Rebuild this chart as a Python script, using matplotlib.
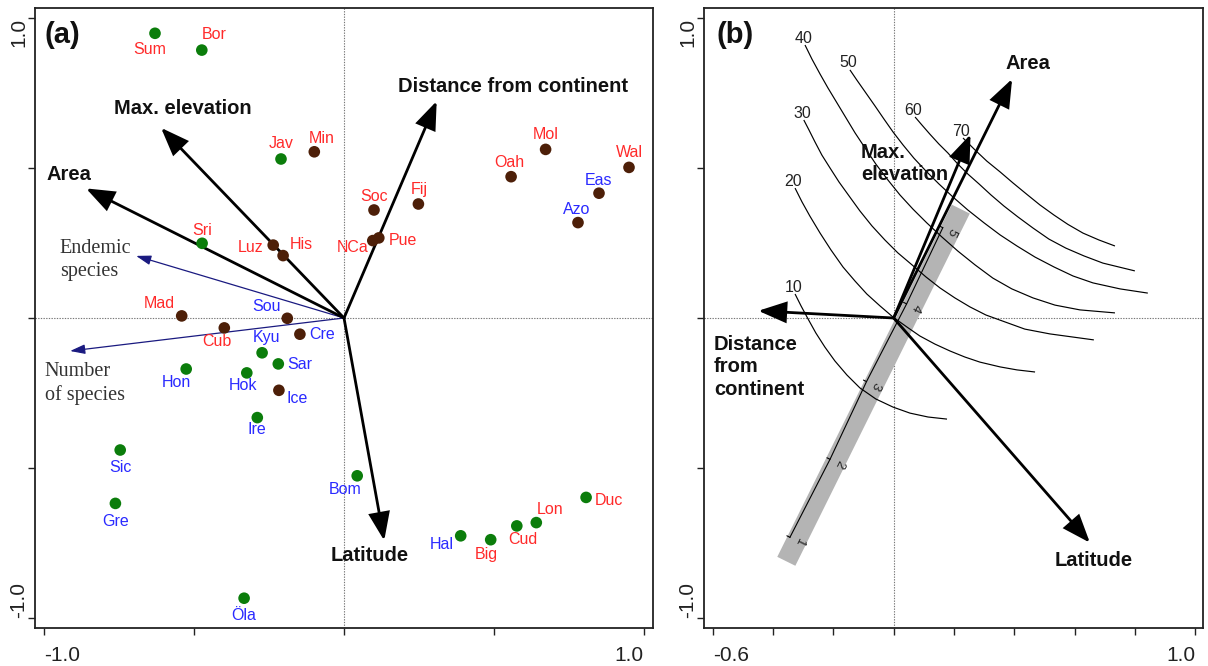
import matplotlib
matplotlib.use("Agg")
import matplotlib.pyplot as plt
import numpy as np

plt.rcParams['font.family'] = ['Liberation Sans', 'DejaVu Sans']

# ---------------- Panel (a) data ----------------
islands = ['Sum', 'Bor', 'Jav', 'Min', 'Sri', 'Luz', 'His', 'Soc', 'Fij', 'NCa',
           'Pue', 'Oah', 'Mol', 'Wal', 'Eas', 'Azo', 'Mad', 'Cub', 'Sou', 'Cre',
           'Kyu', 'Sar', 'Hon', 'Hok', 'Ice', 'Ire', 'Sic', 'Gre', 'Bom', 'Öla',
           'Hal', 'Big', 'Cud', 'Lon', 'Duc']
axis1 = [-0.630, -0.474, -0.210, -0.099, -0.473, -0.236, -0.203, 0.100, 0.248, 0.096,
         0.116, 0.557, 0.672, 0.950, 0.850, 0.780, -0.541, -0.399, -0.189, -0.147,
         -0.273, -0.219, -0.526, -0.324, -0.217, -0.289, -0.746, -0.762, 0.044, -0.333,
         0.389, 0.489, 0.576, 0.641, 0.807]
axis2 = [0.949, 0.893, 0.530, 0.554, 0.249, 0.243, 0.208, 0.360, 0.380, 0.258,
         0.267, 0.471, 0.562, 0.502, 0.416, 0.318, 0.007, -0.033, -0.001, -0.054,
         -0.116, -0.153, -0.170, -0.183, -0.241, -0.332, -0.440, -0.618, -0.526, -0.934,
         -0.726, -0.739, -0.693, -0.682, -0.598]
# island origin (marker colour): C = continental, O = oceanic
origin = ['C', 'C', 'C', 'O', 'C', 'O', 'O', 'O', 'O', 'O',
          'O', 'O', 'O', 'O', 'O', 'O', 'O', 'O', 'O', 'O',
          'C', 'C', 'C', 'C', 'O', 'C', 'C', 'C', 'C', 'C',
          'C', 'C', 'C', 'C', 'C']
# climate (label colour): T = tropical, M = temperate
climate = ['T', 'T', 'T', 'T', 'T', 'T', 'T', 'T', 'T', 'T',
           'T', 'T', 'T', 'T', 'M', 'M', 'T', 'T', 'M', 'M',
           'M', 'M', 'M', 'M', 'M', 'M', 'M', 'M', 'M', 'M',
           'M', 'T', 'T', 'T', 'T']

env_names_a = ['Max. elevation', 'Area', 'Distance from continent', 'Latitude']
env_x_a = [-0.610, -0.860, 0.309, 0.134]
env_y_a = [0.634, 0.432, 0.723, -0.742]

spp_names_a = ['Endemic\nspecies', 'Number\nof species']
spp_x_a = [-0.693, -0.913]
spp_y_a = [0.207, -0.110]

# ---------------- Panel (b) data ----------------
env_names_b = ['Area', 'Max.\nelevation', 'Distance\nfrom\ncontinent', 'Latitude']
env_x_b = [0.393, 0.255, -0.449, 0.651]
env_y_b = [0.797, 0.612, 0.024, -0.749]

contour_levels = [10, 20, 30, 40, 50, 60, 70]
c10_x = [-0.327, -0.307, -0.284, -0.258, -0.228, -0.195, -0.155, -0.112, -0.059,
         -0.002, 0.054, 0.114, 0.177]
c10_y = [0.080, 0.040, -0.003, -0.050, -0.097, -0.143, -0.190, -0.233, -0.270,
         -0.297, -0.317, -0.330, -0.337]
c20_x = [-0.327, -0.304, -0.278, -0.244, -0.208, -0.168, -0.128, -0.089, -0.045,
         -0.002, 0.044, 0.087, 0.137, 0.187, 0.236, 0.286, 0.353, 0.409, 0.469]
c20_y = [0.433, 0.387, 0.340, 0.283, 0.227, 0.170, 0.123, 0.080, 0.040,
         0.003, -0.030, -0.060, -0.087, -0.110, -0.130, -0.147, -0.163, -0.173, -0.180]
c30_x = [-0.298, -0.281, -0.261, -0.238, -0.211, -0.181, -0.148, -0.112, -0.072,
         -0.029, 0.014, 0.061, 0.107, 0.154, 0.203, 0.253, 0.306, 0.369, 0.435,
         0.518, 0.591, 0.664]
c30_y = [0.660, 0.627, 0.587, 0.543, 0.500, 0.453, 0.407, 0.357, 0.307,
         0.260, 0.217, 0.177, 0.137, 0.100, 0.067, 0.037, 0.010, -0.013, -0.037,
         -0.053, -0.063, -0.073]
c40_x = [-0.294, -0.271, -0.244, -0.218, -0.188, -0.158, -0.128, -0.095, -0.059,
         -0.019, 0.021, 0.064, 0.110, 0.160, 0.213, 0.270, 0.329, 0.392, 0.462,
         0.535, 0.618, 0.734]
c40_y = [0.910, 0.863, 0.813, 0.767, 0.717, 0.667, 0.617, 0.567, 0.513,
         0.460, 0.410, 0.363, 0.317, 0.270, 0.223, 0.177, 0.133, 0.097, 0.067,
         0.043, 0.027, 0.017]
c50_x = [-0.145, -0.122, -0.092, -0.062, -0.032, -0.002, 0.031, 0.067, 0.107,
         0.150, 0.197, 0.246, 0.300, 0.353, 0.409, 0.469, 0.532, 0.595, 0.661,
         0.751, 0.843]
c50_y = [0.827, 0.793, 0.750, 0.707, 0.663, 0.620, 0.577, 0.533, 0.490,
         0.447, 0.403, 0.360, 0.317, 0.277, 0.240, 0.203, 0.170, 0.140, 0.117,
         0.097, 0.083]
c60_x = [0.071, 0.094, 0.120, 0.150, 0.180, 0.213, 0.246, 0.283, 0.323,
         0.366, 0.412, 0.462, 0.515, 0.571, 0.631, 0.694, 0.800]
c60_y = [0.670, 0.643, 0.613, 0.580, 0.550, 0.513, 0.480, 0.447, 0.410,
         0.373, 0.337, 0.300, 0.263, 0.233, 0.207, 0.183, 0.157]
c70_x = [0.230, 0.270, 0.309, 0.353, 0.396, 0.442, 0.485, 0.532, 0.578,
         0.628, 0.681, 0.734]
c70_y = [0.600, 0.560, 0.523, 0.487, 0.450, 0.412, 0.377, 0.343, 0.312,
         0.283, 0.260, 0.240]
contours_x = [c10_x, c20_x, c30_x, c40_x, c50_x, c60_x, c70_x]
contours_y = [c10_y, c20_y, c30_y, c40_y, c50_y, c60_y, c70_y]

band_x = [-0.356, 0.2226]
band_y = [-0.811, 0.363]
scale_values = [1, 2, 3, 4, 5]
scale_x = [-0.344, -0.211, -0.090, 0.043, 0.163]
scale_y = [-0.731, -0.471, -0.212, 0.047, 0.301]

# ---------------- styling / layout ----------------
GREEN = '#0b7d0b'
BROWN = '#4d1f08'
RED = '#ff2a2a'
BLUE = '#2a2aff'
NAVY = '#1a1a80'
marker_col = {'C': GREEN, 'O': BROWN}
label_col = {'T': RED, 'M': BLUE}

# label offsets in pixels (dx right, dy down)
label_off = {
    'Sum': (-5, 16), 'Bor': (12, -16), 'Jav': (0, -15), 'Min': (7, -13), 'Sri': (0, -13),
    'Luz': (-23, 2), 'His': (18, -11), 'Soc': (0, -13), 'Fij': (1, -14), 'NCa': (-20, 7),
    'Pue': (24, 3), 'Oah': (-2, -14), 'Mol': (0, -15), 'Wal': (0, -15), 'Eas': (-1, -13),
    'Azo': (-1, -13), 'Mad': (-22, -12), 'Cub': (-7, 14), 'Sou': (-21, -12), 'Cre': (22, 0),
    'Kyu': (4, -15), 'Sar': (21, 1), 'Hon': (-10, 13), 'Hok': (-4, 13), 'Ice': (18, 8),
    'Ire': (0, 12), 'Sic': (0, 17), 'Gre': (0, 18), 'Bom': (-12, 14), 'Öla': (0, 17),
    'Hal': (-19, 9), 'Big': (-4, 15), 'Cud': (6, 14), 'Lon': (14, -13), 'Duc': (23, 3)}
PX = 0.72  # points per pixel at 100 dpi

fig = plt.figure(figsize=(12.08, 6.66), dpi=100)
axa = fig.add_axes([35 / 1208, 38 / 666, 618 / 1208, 620 / 666])
axb = fig.add_axes([704 / 1208, 38 / 666, 499 / 1208, 620 / 666])

axa.set_xlim(-1.03, 1.03)
axa.set_ylim(-1.0333, 1.0333)
axb.set_xlim(-0.629, 1.026)
axb.set_ylim(-1.0333, 1.0333)


def big_arrow(ax, x, y):
    ax.annotate('', xy=(x, y), xytext=(0, 0),
                arrowprops=dict(arrowstyle='-|>,head_length=1.0,head_width=0.38',
                                mutation_scale=17, lw=2.0, color='black',
                                shrinkA=0, shrinkB=0, joinstyle='miter'),
                zorder=4)


def thin_arrow(ax, x, y):
    ax.annotate('', xy=(x, y), xytext=(0, 0),
                arrowprops=dict(arrowstyle='-|>,head_length=1.0,head_width=0.32',
                                mutation_scale=9, lw=0.9, color=NAVY,
                                shrinkA=0, shrinkB=0),
                zorder=4)


for ax in (axa, axb):
    ax.axhline(0, color='#777777', lw=0.8, ls=(0, (1.2, 1.2)), zorder=0)
    ax.axvline(0, color='#777777', lw=0.8, ls=(0, (1.2, 1.2)), zorder=0)
    for s in ax.spines.values():
        s.set_linewidth(1.3)
        s.set_color('#222222')
    ax.tick_params(direction='out', length=5, width=1.0, colors='#222222',
                   labelsize=15)
    ax.tick_params(axis='y', labelrotation=90, pad=0)
    ax.tick_params(axis='x', pad=8)

# ---- panel (a) ----
for name, x, y in zip(spp_names_a, spp_x_a, spp_y_a):
    thin_arrow(axa, x, y)
for name, x, y in zip(env_names_a, env_x_a, env_y_a):
    big_arrow(axa, x, y)

for i, name in enumerate(islands):
    axa.scatter(axis1[i], axis2[i], s=70, color=marker_col[origin[i]],
                edgecolors='none', zorder=5)
    dx, dy = label_off[name]
    axa.annotate(name, xy=(axis1[i], axis2[i]), xytext=(dx * PX, -dy * PX),
                 textcoords='offset points', ha='center', va='center',
                 fontsize=11.5, color=label_col[climate[i]], zorder=6)

bold = dict(fontsize=14.5, fontweight='bold', color='#111111')
axa.text(-0.536, 0.699, 'Max. elevation', ha='center', va='center', **bold)
axa.text(-0.917, 0.477, 'Area', ha='center', va='center', **bold)
axa.text(0.564, 0.771, 'Distance from continent', ha='center', va='center', **bold)
axa.text(0.085, -0.793, 'Latitude', ha='center', va='center', **bold)
serif = dict(family=['Liberation Serif', 'DejaVu Serif'], fontsize=14.5,
             color='#333333', linespacing=1.25)
axa.text(-0.947, 0.193, spp_names_a[0], ha='left', va='center', **serif)
axa.text(-0.997, -0.218, spp_names_a[1], ha='left', va='center', **serif)
axa.text(-0.997, 0.943, '(a)', ha='left', va='center', fontsize=21,
         fontweight='bold', color='#111111')

axa.set_xticks([-1, -0.5, 0, 0.5, 1])
axa.set_xticklabels(['-1.0', '', '', '', '1.0'])
axa.set_yticks([-1, -0.5, 0, 0.5, 1])
axa.set_yticklabels(['-1.0', '', '', '', '1.0'])

# ---- panel (b) ----
axb.plot(band_x, band_y, color='#b4b4b4', lw=14.5, solid_capstyle='butt', zorder=1)
axb.plot(scale_x, scale_y, color='black', lw=0.8, zorder=2)
for v, x, y in zip(scale_values, scale_x, scale_y):
    axb.annotate('', xy=(x, y), xytext=(-2.2, 1.1), textcoords='offset points',
                 arrowprops=dict(arrowstyle='-', lw=0.8, color='black',
                                 shrinkA=0, shrinkB=0), zorder=2)
    axb.annotate(str(v), xy=(x, y), xytext=(6.5, -3.0), textcoords='offset points',
                 ha='center', va='center', fontsize=9.5, rotation=-116.5,
                 rotation_mode='anchor', color='#222222', zorder=2)

for lev, cx, cy in zip(contour_levels, contours_x, contours_y):
    axb.plot(cx, cy, color='black', lw=0.85, zorder=2,
             solid_joinstyle='round', solid_capstyle='butt')
    axb.annotate(str(lev), xy=(cx[0], cy[0]), xytext=(-1.2, 5.0),
                 textcoords='offset points', ha='center', va='center',
                 fontsize=11.5, color='#222222', zorder=3)

for name, x, y in zip(env_names_b, env_x_b, env_y_b):
    big_arrow(axb, x, y)

axb.text(0.446, 0.849, 'Area', ha='center', va='center', **bold)
axb.text(-0.108, 0.516, 'Max.\nelevation', ha='left', va='center',
         linespacing=1.2, **bold)
axb.text(-0.596, -0.163, 'Distance\nfrom\ncontinent', ha='left', va='center',
         linespacing=1.25, **bold)
axb.text(0.662, -0.807, 'Latitude', ha='center', va='center', **bold)
axb.text(-0.587, 0.943, '(b)', ha='left', va='center', fontsize=21,
         fontweight='bold', color='#111111')

axb.set_xticks([-0.6, -0.4, -0.2, 0, 0.2, 0.4, 0.6, 0.8, 1.0])
axb.set_xticklabels(['-0.6', '', '', '', '', '', '', '', '1.0'])
axb.set_yticks([-1, -0.5, 0, 0.5, 1])
axb.set_yticklabels(['-1.0', '', '', '', '1.0'])

for ax in (axa, axb):
    xl = ax.get_xticklabels()
    xl[0].set_ha('left')
    xl[-1].set_ha('right')
    yl = ax.get_yticklabels()
    yl[0].set_va('bottom')
    yl[-1].set_va('top')

fig.savefig('out.png', dpi=100)
